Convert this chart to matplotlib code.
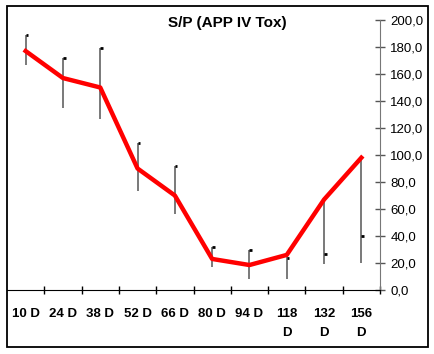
import matplotlib
matplotlib.use("Agg")
import matplotlib.pyplot as plt
from matplotlib.patches import Rectangle

# data
categories = ["10 D", "24 D", "38 D", "52 D", "66 D", "80 D", "94 D", "118\nD", "132\nD", "156\nD"]
mean_vals = [177, 157, 150, 90, 70, 23, 18.5, 26, 67, 98]
high_vals = [189, 172, 179, 109, 92, 32, 30, 26, 67, 97]
low_vals = [167, 135, 127, 73, 56, 17, 8, 8, 19, 20]
close_vals = [189, 172, 179, 109, 92, 32, 30, 24, 27, 40]
yticks = [0, 20, 40, 60, 80, 100, 120, 140, 160, 180, 200]

plt.rcParams['font.family'] = ['Liberation Sans', 'DejaVu Sans']

fig = plt.figure(figsize=(4.35, 3.54), dpi=100)
ax = fig.add_axes([7/435, 1-290/354, (380-7)/435, (290-20)/354])

x = list(range(len(categories)))

# high-low bars with close marks
ax.vlines(x, low_vals, high_vals, color='#555555', linewidth=1.1, zorder=2)
ax.hlines(close_vals, [i for i in x], [i + 0.07 for i in x], color='black', linewidth=2, zorder=2)

ax.plot(x, mean_vals, color='#ff0000', linewidth=3.2, solid_joinstyle='round', zorder=3)

ax.set_xlim(-0.5, len(categories) - 0.5)
ax.set_ylim(0, 200)

ax.spines['left'].set_visible(False)
ax.spines['top'].set_visible(False)
ax.spines['right'].set_color('#777777')
ax.spines['bottom'].set_color('black')

ax.yaxis.tick_right()
ax.set_yticks(yticks)
ax.set_yticklabels(["{:.1f}".format(v).replace('.', ',') for v in yticks], fontsize=9.5)
ax.tick_params(axis='y', direction='inout', length=7, width=1, color='#555555', pad=4)

ax.set_xticks([i + 0.5 for i in x])
ax.set_xticklabels([])
ax.tick_params(axis='x', direction='inout', length=6, width=1, color='black')
for i, lab in enumerate(categories):
    ax.text(i, -0.065, lab, transform=ax.get_xaxis_transform(), ha='center', va='top',
            fontsize=9.5, fontweight='bold', linespacing=1.8)

fig.text(227/435, 1-23/354, "S/P (APP IV Tox)", ha='center', va='center',
         fontsize=11, fontweight='bold')

# outer frame
fig.patches.append(Rectangle((7/435, 1-347/354), (428-7)/435, (347-6)/354,
                             transform=fig.transFigure, fill=False, edgecolor='black', linewidth=1.3))

fig.savefig('out.png', dpi=100)
